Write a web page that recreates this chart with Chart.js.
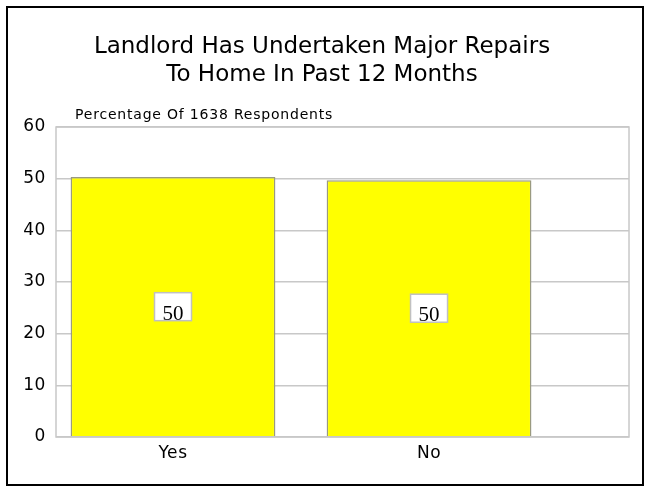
<!DOCTYPE html>
<html>
<head>
<meta charset="utf-8">
<script src="https://cdn.jsdelivr.net/npm/chart.js@4"></script>
<style>
  html, body { margin: 0; padding: 0; background: #fff; }
  #wrap { width: 650px; height: 487px; }
</style>
</head>
<body>
<div id="wrap"><canvas id="c" width="650" height="487"></canvas></div>
<script>
  // --- data ---
  const categories = ['Yes', 'No'];
  const percentages = [50.3, 49.7];
  const yTicks = [0, 10, 20, 30, 40, 50, 60];
  const titleLines = ['Landlord Has Undertaken Major Repairs', 'To Home In Past 12 Months'];
  const subtitle = 'Percentage Of 1638 Respondents';

  const GRID = '#c8c8c8';

  // cadre, titre, sous-titre et étiquettes de valeur
  const decor = {
    id: 'decor',
    beforeDraw(chart) {
      chart.ctx.letterSpacing = '0.6px';
    },
    afterDraw(chart) {
      const { ctx, chartArea: a } = chart;
      ctx.save();
      ctx.letterSpacing = '0px';
      // plot frame
      ctx.strokeStyle = GRID;
      ctx.lineWidth = 1.5;
      ctx.strokeRect(a.left, a.top, a.right - a.left, a.bottom - a.top);
      // outer border
      ctx.strokeStyle = '#000';
      ctx.lineWidth = 2;
      ctx.strokeRect(7, 7, 636, 478);
      // title
      ctx.fillStyle = '#000';
      ctx.textAlign = 'center';
      ctx.textBaseline = 'middle';
      ctx.font = '23px "DejaVu Sans"';
      titleLines.forEach((t, i) => ctx.fillText(t, 322, 47 + i * 28));
      // subtitle
      ctx.textAlign = 'left';
      ctx.font = '14px "DejaVu Sans"';
      ctx.letterSpacing = '0.8px';
      ctx.fillText(subtitle, a.left + 19, a.top - 12);
      ctx.letterSpacing = '0px';
      // value boxes
      const meta = chart.getDatasetMeta(0);
      meta.data.forEach((bar, i) => {
        const cx = bar.x, cy = (bar.y + bar.base) / 2;
        const w = 37, h = 28;
        ctx.fillStyle = '#fff';
        ctx.fillRect(cx - w / 2, cy - h / 2, w, h);
        ctx.strokeStyle = '#c0c0c0';
        ctx.lineWidth = 1.5;
        ctx.strokeRect(cx - w / 2, cy - h / 2, w, h);
        ctx.fillStyle = '#000';
        ctx.textAlign = 'center';
        ctx.textBaseline = 'alphabetic';
        ctx.font = '21px "Liberation Serif"';
        ctx.fillText(String(Math.round(percentages[i])), cx, cy + 13);
      });
      ctx.restore();
    }
  };

  new Chart(document.getElementById('c'), {
    type: 'bar',
    data: {
      datasets: [{
        data: categories.map((c, i) => ({ x: i, y: percentages[i] })),
        backgroundColor: '#ffff00',
        borderColor: '#9a9a80',
        borderWidth: 1.5,
        barPercentage: 0.8,
        categoryPercentage: 1
      }]
    },
    options: {
      responsive: false,
      animation: false,
      events: [],
      layout: { padding: { top: 127, right: 21, left: 0, bottom: 0 } },
      plugins: { legend: { display: false }, tooltip: { enabled: false } },
      scales: {
        x: {
          type: 'linear',
          offset: false,
          min: -0.457,
          max: 1.781,
          afterBuildTicks: s => { s.ticks = categories.map((c, i) => ({ value: i })); },
          afterFit: s => { s.height = 50; },
          grid: { display: false, drawTicks: false },
          border: { display: false },
          ticks: {
            callback: v => categories[v],
            color: '#000',
            padding: 6,
            font: { family: 'DejaVu Sans', size: 17 }
          }
        },
        y: {
          min: 0,
          max: 60,
          afterBuildTicks: s => { s.ticks = yTicks.map(v => ({ value: v })); },
          afterFit: s => { s.width = 56; },
          grid: { color: GRID, lineWidth: 1.5, drawTicks: false },
          border: { display: false },
          ticks: {
            color: '#000',
            padding: 10,
            font: { family: 'DejaVu Sans', size: 17 }
          }
        }
      }
    },
    plugins: [decor]
  });
</script>
</body>
</html>
